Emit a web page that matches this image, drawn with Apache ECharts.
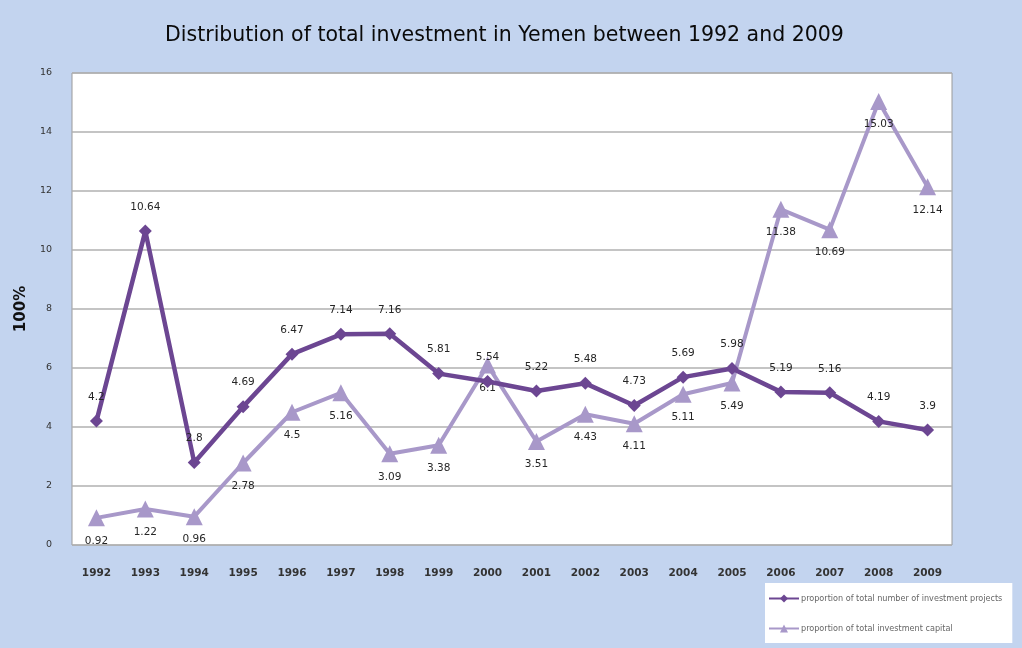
<!DOCTYPE html>
<html>
<head>
<meta charset="utf-8">
<script src="https://cdn.jsdelivr.net/npm/echarts@6/dist/echarts.min.js"></script>
<style>
  html, body { margin: 0; padding: 0; background: #c3d4ef; }
  #chart { width: 1022px; height: 648px; }
</style>
</head>
<body>
<div id="chart"></div>
<script>
// Years on the category axis
const years = ['1992','1993','1994','1995','1996','1997','1998','1999','2000',
               '2001','2002','2003','2004','2005','2006','2007','2008','2009'];

// Share of the total number of investment projects (%)
const projectShare = [4.2, 10.64, 2.8, 4.69, 6.47, 7.14, 7.16, 5.81, 5.54,
                      5.22, 5.48, 4.73, 5.69, 5.98, 5.19, 5.16, 4.19, 3.9];

// Share of the total investment capital (%)
const capitalShare = [0.92, 1.22, 0.96, 2.78, 4.5, 5.16, 3.09, 3.38, 6.1,
                      3.51, 4.43, 4.11, 5.11, 5.49, 11.38, 10.69, 15.03, 12.14];

const yTicks = { min: 0, max: 16, interval: 2 };

const seriesNames = ['proportion of total number of investment projects',
                     'proportion of total investment capital'];

const chart = echarts.init(document.getElementById('chart'));

const labelFont = { fontFamily: 'DejaVu Sans', fontSize: 10.5, color: '#262626' };

chart.setOption({
  backgroundColor: '#c3d4ef',
  animation: false,
  title: {
    text: 'Distribution of total investment in Yemen between 1992 and 2009',
    left: 160,
    top: 20,
    textStyle: { fontFamily: 'DejaVu Sans', fontSize: 20.5, fontWeight: 'normal', color: '#0a0a0a' }
  },
  grid: {
    left: 72, right: 70, top: 73, bottom: 103,
    show: true, backgroundColor: '#ffffff', borderColor: '#9a9a9a', borderWidth: 1
  },
  legend: {
    orient: 'vertical',
    left: 765, top: 583,
    width: 243,
    padding: [11, 10, 10, 3],
    backgroundColor: '#ffffff',
    itemWidth: 30, itemHeight: 10, itemGap: 21,
    textStyle: { fontFamily: 'DejaVu Sans Condensed', fontSize: 9, color: '#666', padding: [0, 0, 0, -3] },
    data: seriesNames
  },
  xAxis: {
    type: 'category',
    data: years,
    boundaryGap: true,
    axisLine: { show: false },
    axisTick: { show: false },
    axisLabel: { margin: 23, fontFamily: 'DejaVu Sans', fontSize: 10.5, fontWeight: 'bold', color: '#333' }
  },
  yAxis: {
    type: 'value',
    min: yTicks.min, max: yTicks.max, interval: yTicks.interval,
    name: '100%',
    nameLocation: 'middle',
    nameGap: 28,
    nameRotate: 90,
    nameTextStyle: { fontFamily: 'DejaVu Sans', fontSize: 15, fontWeight: 'bold', color: '#111' },
    axisLine: { show: false },
    axisTick: { show: false },
    axisLabel: { margin: 20, fontFamily: 'DejaVu Sans', fontSize: 9.5, color: '#333' },
    splitLine: { show: true, lineStyle: { color: '#b0b0b0', width: 1.5 } }
  },
  series: [
    {
      name: seriesNames[0],
      type: 'line',
      data: projectShare,
      symbol: 'diamond',
      symbolSize: 13,
      z: 3,
      itemStyle: { color: '#6c4692' },
      lineStyle: { color: '#6c4692', width: 4.5 },
      label: { show: true, position: 'top', distance: 12, ...labelFont,
               formatter: p => String(p.value) }
    },
    {
      name: seriesNames[1],
      type: 'line',
      data: capitalShare,
      symbol: 'triangle',
      symbolSize: 17,
      z: 2,
      itemStyle: { color: '#a898c9' },
      lineStyle: { color: '#a898c9', width: 4 },
      label: { show: true, position: 'bottom', distance: 9, ...labelFont,
               formatter: p => String(p.value) }
    }
  ]
});
</script>
</body>
</html>
